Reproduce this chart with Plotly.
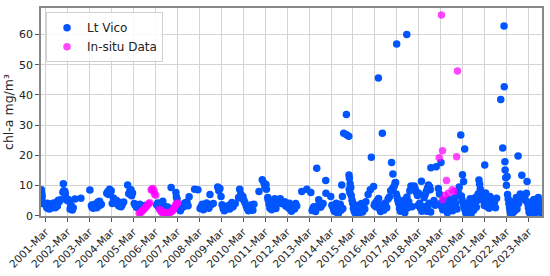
import pandas as pd
import plotly.graph_objects as go

# (decimal year, chl-a mg/m3)
lt_vico = [
    # 2001
    (2000.97, 8.6), (2000.98, 6.8), (2000.99, 7.3), (2001.0, 6.2), (2001.02, 4.5), (2001.04, 4.0),
    (2001.18, 3.8), (2001.2, 3.2), (2001.22, 2.6), (2001.24, 4.1), (2001.26, 3.0), (2001.28, 2.4),
    (2001.3, 3.5), (2001.32, 2.8), (2001.34, 2.2), (2001.36, 3.3), (2001.38, 2.5), (2001.4, 3.9),
    (2001.42, 3.1), (2001.45, 2.7), (2001.48, 3.6), (2001.5, 2.9), (2001.53, 4.2), (2001.56, 3.4),
    (2001.6, 2.6), (2001.63, 3.8), (2001.66, 4.4), (2001.7, 3.2), (2001.74, 5.1), (2001.78, 4.6), (2001.85, 5.3),
    # 2002
    (2001.95, 7.8), (2001.97, 10.6), (2001.99, 8.3), (2002.02, 7.6), (2002.04, 8.0), (2002.06, 7.2),
    (2002.1, 5.6), (2002.15, 5.0), (2002.2, 5.4), (2002.25, 4.6), (2002.28, 2.1), (2002.3, 2.8),
    (2002.33, 3.4), (2002.36, 2.4), (2002.38, 1.9), (2002.42, 2.6), (2002.5, 5.5), (2002.77, 5.8),
    # 2003
    (2003.18, 8.5), (2003.25, 3.4), (2003.28, 2.8), (2003.3, 3.6), (2003.33, 2.5), (2003.36, 3.1),
    (2003.4, 3.8), (2003.43, 2.9), (2003.46, 3.3), (2003.5, 2.6), (2003.55, 4.5), (2003.58, 4.0),
    (2003.62, 4.8), (2003.65, 3.5), (2003.7, 3.8),
    # 2004
    (2003.95, 7.4), (2004.0, 8.0), (2004.03, 7.0), (2004.08, 8.8), (2004.12, 7.8), (2004.15, 8.3),
    (2004.2, 4.0), (2004.25, 5.9), (2004.3, 5.3), (2004.35, 4.6), (2004.4, 5.0), (2004.45, 3.7),
    (2004.5, 3.2), (2004.55, 4.4), (2004.6, 3.0), (2004.65, 3.6), (2004.72, 4.5),
    # 2005
    (2004.9, 10.2), (2004.95, 7.3), (2005.0, 8.2), (2005.05, 8.6), (2005.08, 6.6), (2005.12, 7.5),
    (2005.2, 4.0), (2005.25, 3.5), (2005.3, 2.8), (2005.35, 3.2), (2005.4, 2.5), (2005.45, 3.8),
    (2005.5, 2.2), (2005.55, 3.0), (2005.6, 2.6), (2005.68, 3.4),
    # 2006
    (2006.22, 3.6), (2006.27, 4.2), (2006.3, 3.0), (2006.35, 2.6), (2006.4, 3.4), (2006.45, 2.2),
    (2006.5, 4.8), (2006.55, 3.2), (2006.6, 2.8), (2006.7, 3.0), (2006.8, 2.5), (2006.88, 9.3),
    # 2007
    (2007.1, 7.7), (2007.12, 6.2), (2007.15, 5.5), (2007.2, 3.0), (2007.25, 2.2), (2007.3, 1.6),
    (2007.35, 2.5), (2007.4, 3.5), (2007.45, 3.0), (2007.5, 4.2), (2007.55, 3.8), (2007.6, 4.5),
    (2007.65, 3.3), (2007.7, 6.3),
    # 2008
    (2007.95, 8.8), (2008.1, 8.6), (2008.2, 2.4), (2008.25, 3.0), (2008.3, 3.8), (2008.35, 2.0),
    (2008.4, 2.7), (2008.45, 3.4), (2008.5, 4.2), (2008.55, 3.0), (2008.6, 2.5), (2008.65, 7.0),
    (2008.7, 3.6), (2008.8, 4.0),
    # 2009
    (2009.0, 9.5), (2009.05, 8.3), (2009.1, 9.0), (2009.15, 6.4), (2009.2, 3.6), (2009.25, 2.4),
    (2009.3, 1.6), (2009.35, 2.0), (2009.4, 3.0), (2009.45, 2.6), (2009.5, 3.4), (2009.55, 2.2),
    (2009.6, 3.8), (2009.65, 4.4), (2009.7, 3.0), (2009.8, 4.0),
    # 2010
    (2009.95, 6.0), (2010.0, 8.8), (2010.05, 7.2), (2010.1, 5.7), (2010.15, 6.4), (2010.2, 5.0),
    (2010.25, 4.2), (2010.3, 3.2), (2010.35, 2.4), (2010.4, 1.6), (2010.45, 2.8), (2010.5, 2.2),
    (2010.55, 3.6), (2010.6, 1.8), (2010.65, 3.8),
    # 2011
    (2010.88, 8.0), (2011.03, 11.9), (2011.11, 10.8), (2011.15, 9.5), (2011.2, 10.3), (2011.22, 8.8),
    (2011.28, 6.0), (2011.3, 5.2), (2011.34, 3.8), (2011.38, 2.5), (2011.42, 3.2), (2011.46, 2.0),
    (2011.5, 2.8), (2011.55, 3.6), (2011.6, 5.6), (2011.65, 2.4), (2011.7, 4.0), (2011.85, 5.6), (2011.9, 4.0),
    # 2012
    (2012.05, 4.6), (2012.1, 3.2), (2012.15, 4.1), (2012.18, 3.0), (2012.21, 3.5), (2012.24, 2.5),
    (2012.27, 4.1), (2012.3, 3.0), (2012.33, 2.0), (2012.36, 1.5), (2012.4, 2.6), (2012.45, 3.4),
    (2012.5, 2.2), (2012.55, 4.0), (2012.6, 3.2), (2012.83, 8.0),
    # 2013
    (2013.06, 8.8), (2013.24, 7.7), (2013.3, 1.7), (2013.34, 2.5), (2013.38, 3.0), (2013.42, 2.2),
    (2013.46, 1.4), (2013.51, 15.7), (2013.55, 3.2), (2013.6, 5.3), (2013.64, 3.5), (2013.68, 2.8),
    (2013.72, 3.2), (2013.8, 4.0), (2013.92, 11.7), (2013.93, 7.4),
    # 2014
    (2014.15, 6.4), (2014.2, 3.5), (2014.24, 3.0), (2014.28, 2.0), (2014.32, 1.4), (2014.36, 2.5),
    (2014.4, 4.1), (2014.44, 3.5), (2014.48, 0.6), (2014.5, 1.0), (2014.54, 2.8), (2014.58, 3.8),
    (2014.62, 1.8), (2014.65, 10.2), (2014.68, 6.4), (2014.7, 2.4),
    (2014.74, 27.3), (2014.86, 33.5), (2014.87, 26.8), (2014.97, 26.3), (2014.98, 13.5), (2015.0, 12.4),
    (2015.03, 10.6), (2015.06, 9.3), (2014.99, 8.8), (2015.02, 7.7), (2015.08, 6.7),
    # 2015
    (2015.12, 5.1), (2015.15, 4.1), (2015.18, 2.5), (2015.22, 1.5), (2015.26, 0.9), (2015.3, 2.0),
    (2015.34, 3.0), (2015.38, 3.5), (2015.42, 0.5), (2015.46, 1.8), (2015.5, 2.8), (2015.55, 4.0),
    (2015.6, 1.2), (2015.65, 3.2), (2015.7, 2.2), (2015.75, 4.6), (2015.85, 7.0), (2015.95, 8.6), (2016.0, 19.4),
    # 2016
    (2016.1, 9.7), (2016.13, 3.5), (2016.17, 4.1), (2016.2, 3.0), (2016.24, 4.6), (2016.28, 5.1),
    (2016.32, 45.6), (2016.33, 5.7), (2016.38, 2.2), (2016.42, 1.4), (2016.46, 2.6), (2016.5, 27.3),
    (2016.52, 3.6), (2016.56, 1.8), (2016.6, 3.0), (2016.64, 4.2), (2016.7, 2.6), (2016.76, 5.5),
    (2016.82, 6.2), (2016.88, 8.3), (2016.92, 17.6), (2016.95, 8.8), (2016.98, 13.8), (2017.0, 9.3),
    (2017.04, 9.8), (2017.08, 10.9), (2017.1, 11.0),
    # 2017
    (2017.13, 7.2), (2017.15, 56.9), (2017.17, 6.2), (2017.2, 5.1), (2017.24, 4.1), (2017.28, 2.5),
    (2017.32, 1.5), (2017.36, 3.0), (2017.4, 4.1), (2017.44, 2.0), (2017.48, 5.1), (2017.52, 1.0),
    (2017.56, 3.4), (2017.61, 60.0), (2017.62, 6.2), (2017.66, 2.6), (2017.7, 4.6), (2017.75, 8.3),
    (2017.8, 9.8), (2017.85, 3.0),
    # 2018
    (2017.95, 9.8), (2018.0, 8.8), (2018.05, 7.7), (2018.1, 6.7), (2018.14, 7.5), (2018.12, 3.4),
    (2018.28, 11.4), (2018.2, 4.1), (2018.24, 2.5), (2018.3, 1.5), (2018.34, 3.0), (2018.4, 6.0),
    (2018.45, 7.0), (2018.5, 8.0), (2018.55, 9.1), (2018.6, 10.2), (2018.65, 9.6), (2018.68, 8.6),
    (2018.42, 3.0), (2018.47, 2.0), (2018.52, 1.5), (2018.57, 3.0), (2018.62, 4.1), (2018.7, 1.2),
    (2018.71, 15.9), (2018.95, 16.2), (2018.85, 5.0), (2018.9, 3.5),
    # 2019
    (2019.17, 17.6), (2019.05, 9.0), (2019.1, 7.2), (2019.15, 4.0), (2019.2, 3.0), (2019.25, 2.0),
    (2019.3, 5.1), (2019.34, 4.1), (2019.38, 3.0), (2019.42, 2.0), (2019.46, 1.0), (2019.5, 3.6),
    (2019.55, 5.4), (2019.6, 2.4), (2019.64, 4.4), (2019.7, 1.6), (2019.74, 3.0), (2019.8, 6.0),
    (2019.84, 4.0), (2019.9, 2.2), (2019.95, 7.9), (2020.0, 9.5),
    # 2020
    (2020.07, 26.7), (2020.15, 13.6), (2020.2, 11.3), (2020.25, 22.1), (2020.1, 6.5), (2020.13, 5.2),
    (2020.18, 4.0), (2020.22, 3.0), (2020.26, 2.0), (2020.3, 0.9), (2020.34, 2.5), (2020.38, 4.2),
    (2020.42, 1.5), (2020.46, 3.2), (2020.5, 5.6), (2020.54, 0.6), (2020.58, 2.6), (2020.62, 4.6),
    (2020.66, 1.8), (2020.7, 3.6), (2020.74, 6.0), (2020.78, 2.8), (2020.82, 5.0), (2020.86, 7.2),
    (2020.9, 11.8), (2020.93, 10.4), (2020.96, 8.8),
    # 2021
    (2021.16, 16.8), (2021.05, 6.4), (2021.1, 5.0), (2021.14, 3.4), (2021.2, 7.5), (2021.24, 5.8),
    (2021.28, 3.0), (2021.32, 4.6), (2021.36, 2.5), (2021.4, 6.4), (2021.45, 3.8), (2021.5, 5.2),
    (2021.55, 3.2), (2021.6, 4.4), (2021.65, 2.6), (2021.7, 5.8),
    # 2022
    (2021.89, 38.5), (2021.98, 22.4), (2022.04, 62.8), (2022.05, 42.7), (2022.08, 17.9), (2022.09, 15.1),
    (2022.12, 12.6), (2022.15, 10.1), (2022.18, 13.0), (2022.2, 7.0), (2022.23, 5.5), (2022.26, 4.0),
    (2022.29, 2.6), (2022.32, 1.4), (2022.35, 0.5), (2022.38, 2.0), (2022.41, 3.4), (2022.44, 1.0),
    (2022.47, 2.8), (2022.5, 4.6), (2022.53, 1.6), (2022.56, 3.6), (2022.6, 6.0), (2022.63, 2.2),
    (2022.68, 19.8), (2022.7, 4.0), (2022.74, 5.6), (2022.78, 7.2), (2022.85, 13.4), (2022.9, 6.4),
    # 2023
    (2023.09, 11.3), (2022.98, 6.6), (2023.02, 5.0), (2023.06, 7.4), (2023.12, 4.0), (2023.15, 2.6),
    (2023.18, 1.2), (2023.21, 3.4), (2023.24, 0.5), (2023.27, 2.0), (2023.3, 4.6), (2023.33, 1.4),
    (2023.36, 3.0), (2023.4, 5.4), (2023.44, 0.8), (2023.48, 2.4), (2023.52, 3.8), (2023.56, 1.6),
    (2023.6, 6.0), (2023.64, 2.8), (2023.68, 4.4), (2023.72, 1.0), (2023.75, 3.2),
]

in_situ = [
    (2005.42, 0.8), (2005.47, 1.0), (2005.52, 1.3), (2005.57, 1.6), (2005.62, 2.0), (2005.67, 2.4),
    (2005.72, 2.8), (2005.77, 3.2), (2005.82, 3.6), (2005.87, 4.0), (2005.9, 4.3), (2005.97, 8.5),
    (2006.0, 8.8), (2006.05, 9.0), (2006.1, 8.3), (2006.12, 7.2), (2006.18, 6.8),
    (2006.35, 2.1), (2006.4, 1.6), (2006.45, 1.1), (2006.5, 1.0), (2006.55, 1.2), (2006.6, 0.9),
    (2006.65, 1.1), (2006.7, 0.9), (2006.75, 1.0), (2006.8, 0.9), (2006.85, 1.2), (2006.9, 1.4),
    (2006.95, 1.6), (2007.0, 2.2), (2007.03, 2.6), (2007.07, 3.2), (2007.1, 3.7), (2007.14, 4.0), (2007.18, 4.2),
    (2019.09, 19.2), (2019.19, 66.5), (2019.24, 21.5), (2019.24, 5.3), (2019.35, 6.7), (2019.42, 11.7),
    (2019.5, 7.4), (2019.68, 8.6), (2019.77, 8.0), (2019.88, 19.5), (2019.92, 47.9),
]

tick_years = list(range(2001, 2024))
tick_labels = [f"{y}-Mar" for y in tick_years]
y_ticks = [0, 10, 20, 30, 40, 50, 60]


def dec_to_date(t):
    y = int(t)
    return pd.Timestamp(y, 1, 1) + pd.Timedelta(days=(t - y) * 365.25)


lt_x = [dec_to_date(t) for t, _ in lt_vico]
lt_y = [v for _, v in lt_vico]
is_x = [dec_to_date(t) for t, _ in in_situ]
is_y = [v for _, v in in_situ]

FONT = "DejaVu Sans"

fig = go.Figure()
fig.add_trace(go.Scatter(
    x=lt_x, y=lt_y, mode="markers", name="Lt Vico",
    marker=dict(color="#0055ff", size=7.5, line=dict(width=0)),
))
fig.add_trace(go.Scatter(
    x=is_x, y=is_y, mode="markers", name="In-situ Data",
    marker=dict(color="rgba(255,0,255,0.72)", size=7.5, line=dict(width=0)),
))

fig.update_layout(
    width=550, height=276,
    margin=dict(l=41, r=6, t=6, b=53),
    paper_bgcolor="white", plot_bgcolor="white",
    font=dict(family=FONT, size=11, color="#222"),
    showlegend=True,
    legend=dict(
        x=0.01, y=0.98, xanchor="left", yanchor="top",
        bgcolor="rgba(255,255,255,0.85)", bordercolor="#d0d0d0", borderwidth=1,
        font=dict(family=FONT, size=12, color="#222"),
        itemsizing="trace",
        tracegroupgap=0,
    ),
    xaxis=dict(
        type="date",
        range=[dec_to_date(2000.955), dec_to_date(2023.77)],
        tickvals=[pd.Timestamp(y, 3, 1) for y in tick_years],
        ticktext=tick_labels,
        tickangle=-45,
        tickfont=dict(family=FONT, size=10.5, color="#222"),
        showgrid=True, gridcolor="#d4d4d4", gridwidth=1,
        ticks="outside", ticklen=4, tickcolor="#555",
        showline=True, linecolor="#888", linewidth=1.5, mirror=True,
        zeroline=False,
    ),
    yaxis=dict(
        range=[-0.1, 68.8],
        tickvals=y_ticks,
        tickfont=dict(family=FONT, size=11, color="#222"),
        showgrid=True, gridcolor="#d4d4d4", gridwidth=1,
        ticks="outside", ticklen=4, tickcolor="#555",
        showline=True, linecolor="#888", linewidth=1.5, mirror=True,
        zeroline=False,
        title=dict(text="chl-a mg/m³", font=dict(family=FONT, size=12.5, color="#222"), standoff=3),
    ),
)

fig.write_html("out.html")
